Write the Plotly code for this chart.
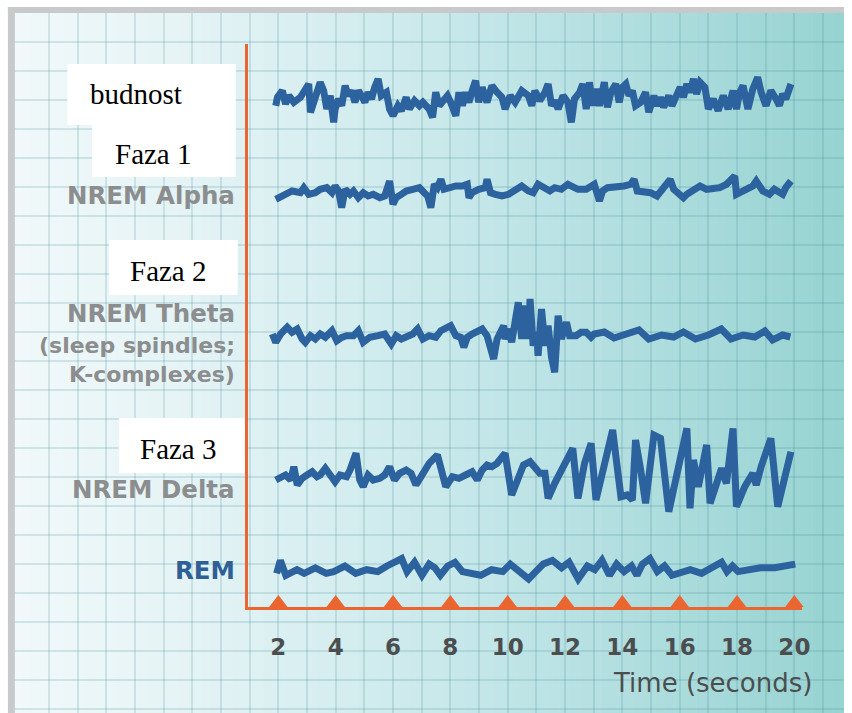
import plotly.graph_objects as go

# ---------------- data: time (s) and amplitude (arbitrary units) ----------------
wake_t = [1.91,1.97,2.14,2.25,2.37,2.54,2.77,2.94,3.06,3.12,3.29,3.46,3.58,3.69,3.81,3.93,3.98,4.10,4.21,4.33,
          4.44,4.56,4.67,4.79,4.90,5.02,5.13,5.25,5.36,5.48,5.59,5.77,5.88,6.00,6.17,6.29,6.46,6.57,6.75,6.92,
          7.04,7.26,7.38,7.49,7.61,7.78,7.90,8.01,8.19,8.30,8.42,8.53,8.65,8.76,8.88,8.99,9.11,9.28,9.45,9.63,
          9.80,9.91,10.09,10.26,10.49,10.72,10.84,10.95,11.12,11.30,11.41,11.53,
          11.64,11.76,11.93,12.10,12.22,12.33,12.51,12.62,12.74,12.85,12.97,13.08,13.20,13.37,13.48,13.60,13.77,13.89,
          14.00,14.12,14.23,14.35,14.46,14.64,14.81,14.92,15.10,15.21,15.33,15.44,15.62,15.73,15.90,16.02,16.13,16.25,
          16.36,16.48,16.59,16.71,16.88,17.00,17.17,17.34,17.52,17.69,17.86,17.98,18.09,18.21,18.38,18.55,18.72,18.84,
          19.01,19.18,19.36,19.48,19.59,19.70,19.88]
wake_v = [-6.7,1.7,8.3,-5,3.3,-3.3,1.7,10,15,-13.3,3.3,16.7,8.3,-10,3.3,-23.3,-10,0,-6.7,13.3,
          3.3,8.3,-3.3,8.3,3.3,-3.3,6.7,0,11.7,20,3.3,6.7,-10,-16.7,-6.7,-11.7,1.7,-10,-1.7,-6.7,
          -3.3,-10,-18.3,6.7,-6.7,-1.7,3.3,-3.3,-16.7,6.7,-6.7,6.7,-3.3,8.3,18.3,-3.3,11.7,-3.3,13.3,6.7,
          1.7,-10,3.3,-3.3,8.3,3.3,-6.7,8.3,-1.7,6.7,15,-6.7,
          -1.7,-10,3.3,-3.3,-23.3,0,6.7,15,-10,16.7,-6.7,10,-6.7,16.7,-8.3,6.7,15,-3.3,
          11.7,15,3.3,8.3,-6.7,-3.3,6.7,-13.3,3.3,-6.7,1.7,-8.3,3.3,-6.7,3.3,11.7,1.7,15,
          6.7,20,5,16.7,11.7,-10,0,-11.7,3.3,-10,8.3,-10,6.7,13.3,-10,10,21.7,6.7,
          -6.7,8.3,0,-6.7,5,0,15]

alpha_t = [1.91,2.20,2.48,2.77,2.89,3.06,3.29,3.46,3.69,3.87,3.98,4.10,4.21,4.33,4.50,4.62,4.79,4.96,5.13,5.31,
           5.54,5.71,5.88,6.00,6.11,6.29,6.46,6.69,6.92,7.09,7.21,7.32,7.44,7.55,7.67,7.78,7.95,8.19,8.42,8.59,
           8.65,8.76,8.99,9.22,9.28,9.40,9.57,9.80,10.03,10.26,10.49,10.72,10.89,11.06,11.30,11.47,
           11.64,11.87,12.10,12.27,12.45,12.74,13.02,13.20,13.31,13.48,13.77,14.06,14.29,14.41,14.52,14.75,14.98,15.21,
           15.44,15.67,15.79,15.96,16.13,16.25,16.48,16.71,16.94,17.17,17.40,17.63,17.92,17.98,18.15,18.32,18.55,18.67,
           18.90,19.13,19.30,19.48,19.59,19.70,19.88]
alpha_v = [-10.3,-5.3,-2,-3.7,1.3,-5.3,-3.7,-0.3,1.3,-3.7,3,-2,-18.7,-0.3,-5.3,-2,-8.7,-3.7,-7,-5.3,
           -8.7,-7,8,-15.3,-8.7,-5.3,-2,-0.3,1.3,-3.7,-7,-18.7,4.7,1.3,9.7,-0.3,1.3,3,3,4.7,
           -8.7,-3.7,-0.3,1.3,9.7,-3.7,-5.3,-7,-5.3,-0.3,3,-2,-3.7,4.7,-0.3,-2,
           1.3,-0.3,4.7,3,-0.3,-0.3,4.7,-12,-2,1.3,1.3,3,4.7,9.7,-2,-2,-3.7,-7,
           1.3,9.7,-0.3,-5.3,-8.7,-5.3,-0.3,3,-0.3,-0.3,1.3,4.7,13,-5.3,-3.7,-0.3,3,8,
           -2,-5.3,-0.3,-3.7,-5.3,1.3,8]

theta_t = [1.79,1.91,2.08,2.31,2.48,2.66,2.83,2.94,3.12,3.29,3.46,3.64,3.87,4.04,4.21,4.38,4.62,4.79,4.96,5.19,
           5.48,5.71,5.94,6.11,6.29,6.46,6.69,6.86,7.04,7.26,7.49,7.67,7.84,8.01,8.19,8.36,8.47,8.59,8.76,8.94,
           9.11,9.28,9.51,9.63,9.74,9.86,9.91,10.03,10.14,10.26,10.37,10.49,10.60,10.72,10.78,10.89,11.01,11.06,11.18,11.30,
           11.41,11.53,11.64,11.76,11.87,12.05,12.16,12.39,12.56,12.74,12.91,13.02,
           13.37,13.71,14.13,14.58,14.92,15.37,15.79,16.13,16.55,17.00,17.45,17.79,18.21,18.62,18.97,19.24,19.59,19.86]
theta_v = [3,-5.3,3,9.7,4.7,8,-2,-5.3,1.3,-2,3,-0.3,6.3,-3.7,-0.3,1.3,1.3,6.3,-5.3,-0.3,
           1.3,3,-7,1.3,-2,-0.3,3,8,-2,1.3,-0.3,6.3,8,11.3,1.3,-0.3,-10.3,-0.3,3,4.7,
           8,1.3,-22,-2,4.7,11.3,-2,8,-5.3,18,34.7,-2,31.3,-2,38,-8.7,4.7,-18.7,28,-8.7,
           11.3,-20.3,-35.3,21.3,-2,14.7,1.3,1.3,4.7,4.7,-0.3,3,
           5,-1,2,7,-2,2,0,5,-2,2,8,-2,2,0,6,-3,2,0]

delta_t = [1.91,2.08,2.25,2.43,2.54,2.66,2.83,3.00,3.18,3.35,3.46,3.64,3.81,3.98,4.15,4.38,4.50,4.71,4.84,4.96,
           5.13,5.31,5.54,5.71,5.88,6.05,6.23,6.46,6.63,6.80,6.98,7.26,7.55,7.73,7.84,8.07,8.30,8.53,8.76,8.94,
           9.11,9.28,9.45,9.63,9.91,10.14,10.37,10.55,10.78,10.95,11.12,11.30,11.41,
           11.64,11.99,12.27,12.45,12.68,12.91,13.08,13.37,13.66,13.95,14.17,14.35,14.46,14.64,14.81,15.10,15.33,
           15.62,15.96,16.25,16.36,16.48,16.65,16.94,17.06,17.28,17.46,17.63,17.86,17.98,18.27,18.55,18.67,18.84,
           19.18,19.42,19.88]
delta_v = [-2,1.3,3,-2,11.3,-7,-0.3,3,6.3,1.3,3,9.7,1.3,-3.7,3,1.3,8,24.7,-2,-8.7,
           3,-2,-0.3,3,11.3,-2,4.7,8,4.7,-7,1.3,14.7,23,6.3,-8.7,1.3,-0.3,3,6.3,-2,
           8,13,11.3,14.7,24.7,-17,1.3,13,16.3,11.3,4.7,4.7,-20.3,
           -5.3,13,29.7,-20.3,14.7,34.7,-22,13,48,-18.7,-17,-22,38,8,-25.3,43,39.7,
           -33.7,11.3,49.7,-30.3,18,-8.7,33,-25.3,-8.7,9.7,-5.3,49.7,-28.7,-8.7,4.7,-7,11.3,
           39.7,-28.7,26.3]

rem_t = [1.94,2.07,2.26,2.65,2.90,3.29,3.67,3.93,4.32,4.70,5.08,5.47,5.79,6.05,6.30,6.49,6.75,7.01,7.26,7.46,
         7.65,7.91,8.16,8.42,8.68,9.06,9.44,9.83,10.09,10.47,10.73,10.98,11.24,11.56,11.88,12.14,12.46,12.78,13.04,13.29,
         13.55,13.80,14.06,14.32,14.51,14.70,14.96,15.22,15.47,15.73,16.05,16.37,16.76,17.14,17.46,17.65,17.84,18.04,18.42,18.81,
         19.32,19.71,20.03]
rem_v = [-6.4,6.6,-8.3,-2.7,-6.4,-0.8,-6.4,-4.6,1,-6.4,-2.7,-4.6,1,4.7,8.4,-4.6,4.7,-8.3,2.9,-0.8,
         -8.3,1,4.7,-4.6,-6.4,-8.3,-2.7,-4.6,2.9,-6.4,-12,-4.6,2.9,6.6,-0.8,4.7,-12,1,-2.7,6.6,
         -8.3,2.9,-4.6,1,-8.3,2.9,8.4,-4.6,1,-8.3,-4.6,-2.7,-6.4,-0.8,4.7,-4.6,1,-4.6,-2.7,-0.8,
         -0.8,1,2.9]

tick_seconds = [2, 4, 6, 8, 10, 12, 14, 16, 18, 20]
axis_title = "Time (seconds)"

# ---------------- layout geometry (pixels) ----------------
W, H = 852, 713
PPS = 28.94          # pixels per second
T0 = 223.1           # pixel x of t = 0
ORANGE = "#ea6530"
BLUE = "#2c629e"
GRAY = "#8b8d8e"
DARK = "#4b4d4e"
GRID = "rgba(60,140,150,0.18)"

def t_at(px):
    return (px - T0) / PPS

# baselines (pixel from top) for each channel
channels = [
    (wake_t, wake_v, 99),
    (alpha_t, alpha_v, 189),
    (theta_t, theta_v, 337),
    (delta_t, delta_v, 478),
    (rem_t, rem_v, 567),
]

fig = go.Figure()

for ts, vs, base in channels:
    fig.add_trace(go.Scatter(
        x=ts, y=[H - base + v for v in vs], mode="lines",
        line=dict(color=BLUE, width=7), hoverinfo="skip", xaxis="x", yaxis="y"))

# orange tick triangles on the time axis
TRI = 16
fig.add_trace(go.Scatter(
    x=tick_seconds, y=[H - 607 + TRI * 0.25] * len(tick_seconds), mode="markers",
    marker=dict(symbol="triangle-up", size=TRI, color=ORANGE, line=dict(width=0)),
    cliponaxis=False, hoverinfo="skip", xaxis="x2", yaxis="y2"))

# ---------------- background gradient ----------------
stops = [(0, (242, 249, 250)), (200, (228, 243, 245)), (400, (207, 235, 237)),
         (600, (182, 224, 226)), (852, (150, 211, 209))]

def bg_color(px):
    for (a, ca), (b, cb) in zip(stops[:-1], stops[1:]):
        if a <= px <= b:
            f = (px - a) / (b - a)
            c = [round(ca[i] + (cb[i] - ca[i]) * f) for i in range(3)]
            return "rgb(%d,%d,%d)" % tuple(c)
    return "rgb(%d,%d,%d)" % stops[-1][1]

shapes = []
N = 80
for i in range(N):
    x0 = W * i / N
    x1 = W * (i + 1) / N
    shapes.append(dict(type="rect", xref="paper", yref="paper", x0=x0 / W, x1=min(x1 + 0.6, W) / W,
                       y0=0, y1=1, fillcolor=bg_color((x0 + x1) / 2), line=dict(width=0), layer="below"))

# frame border (left and top)
def prect(x0, y0, x1, y1, color, layer="above"):
    return dict(type="rect", xref="paper", yref="paper", x0=x0 / W, x1=x1 / W,
                y0=1 - y1 / H, y1=1 - y0 / H, fillcolor=color, line=dict(width=0), layer=layer)

shapes += [
    prect(0, 0, 8, H, "white"),
    prect(0, 0, W, 7, "white"),
    prect(8, 7, 15, H, "rgb(200,201,202)"),
    prect(8, 7, W, 13, "rgb(200,201,202)"),
]

# white label boxes
shapes += [
    prect(68, 64, 238, 125, "white"),
    prect(93, 125, 238, 177, "white"),
    prect(110, 240, 240, 295, "white"),
    prect(120, 418, 247, 473, "white"),
]

# ---------------- annotations ----------------
def ann(text, x_px, y_px, size, color, family, xanchor="left", weight="normal", align="left"):
    return dict(text=text, x=x_px / W, y=1 - y_px / H, xref="paper", yref="paper",
                xanchor=xanchor, yanchor="middle", showarrow=False, align=align,
                font=dict(size=size, color=color, family=family, weight=weight))

SERIF = "Liberation Serif"
SANS = "DejaVu Sans"
annotations = [
    ann("budnost", 89, 94, 29, "black", SERIF),
    ann("Faza 1", 114, 154, 29, "black", SERIF),
    ann("Faza 2", 129, 271, 29, "black", SERIF),
    ann("Faza 3", 139, 449, 29, "black", SERIF),
    ann("NREM Alpha", 239, 195, 24.5, GRAY, SANS, "right", "bold", "right"),
    ann("NREM Theta", 239, 313, 24.5, GRAY, SANS, "right", "bold", "right"),
    ann("(sleep spindles;", 239, 345, 22, GRAY, SANS, "right", "bold", "right"),
    ann("K-complexes)", 239, 374, 22, GRAY, SANS, "right", "bold", "right"),
    ann("NREM Delta", 239, 489, 24.5, GRAY, SANS, "right", "bold", "right"),
    ann("REM", 239, 570, 24.5, "#2e5f96", SANS, "right", "bold", "right"),
    ann(axis_title, 822, 683, 26, DARK, SANS, "right"),
]

fig.update_layout(
    width=W, height=H, margin=dict(l=0, r=0, t=0, b=0),
    paper_bgcolor="white", plot_bgcolor="rgba(0,0,0,0)",
    showlegend=False, hovermode=False,
    shapes=shapes, annotations=annotations,
    xaxis=dict(domain=[0, 1], range=[t_at(0), t_at(W)], tickmode="array",
               tickvals=list(range(-6, 22)), showticklabels=False, ticks="",
               showgrid=True, gridcolor=GRID, gridwidth=1.5,
               zeroline=False, showline=False, fixedrange=True),
    yaxis=dict(domain=[0, 1], range=[0, H], tickmode="array",
               tickvals=[4 + 29 * k for k in range(24)], showticklabels=False, ticks="",
               showgrid=True, gridcolor=GRID, gridwidth=1.5,
               zeroline=False, showline=False, fixedrange=True),
    xaxis2=dict(domain=[250 / W, 810 / W], range=[t_at(250), t_at(810)], anchor="y2",
                tickmode="array", tickvals=tick_seconds, ticks="", showgrid=False, zeroline=False,
                showline=True, linecolor=ORANGE, linewidth=2.5, ticklabelstandoff=18,
                tickfont=dict(size=23, color=DARK, family=SANS, weight="bold"), fixedrange=True),
    yaxis2=dict(domain=[(H - 607) / H, (H - 44) / H], range=[H - 607, H - 44], anchor="x2",
                tickmode="array", tickvals=[H - 44], ticks="inside", ticklen=30, tickwidth=2.5,
                tickcolor=ORANGE, showticklabels=False, showgrid=False, zeroline=False,
                showline=True, linecolor=ORANGE, linewidth=2.5, fixedrange=True),
)

fig.write_html("out.html", config={"displayModeBar": False},
               post_script="document.body.style.margin='0';document.body.style.overflow='hidden';")
